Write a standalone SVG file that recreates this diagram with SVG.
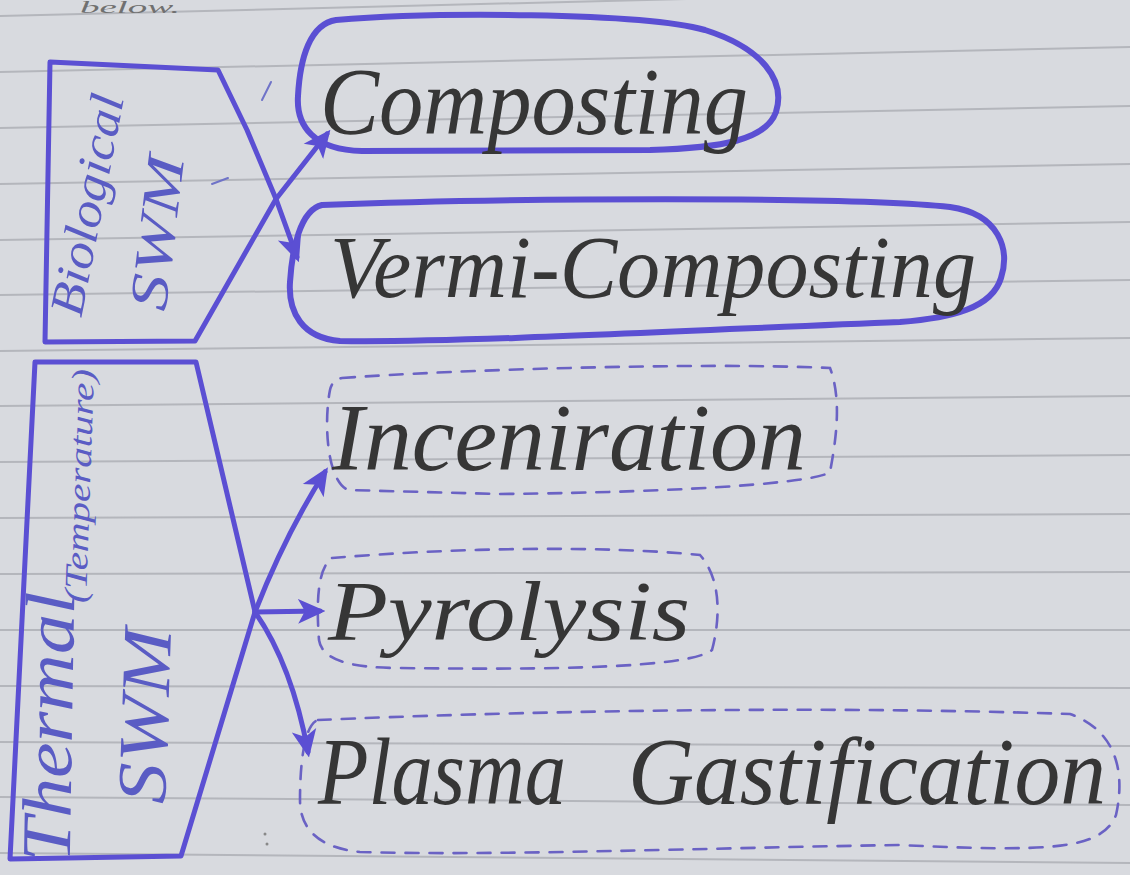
<svg xmlns="http://www.w3.org/2000/svg" width="1130" height="875" viewBox="0 0 1130 875">
<style>
.rule{stroke:#b4b6bc;stroke-width:2;fill:none}
.ink{stroke:#5b4fd3;fill:none;stroke-linecap:round;stroke-linejoin:round}
.box{stroke-width:5}
.oval{stroke-width:6}
.dash{stroke:#6a62c4;stroke-width:2.6;fill:none;stroke-dasharray:13 11;stroke-linecap:round}
.conn{stroke:#5b4fd3;stroke-width:5;fill:none;stroke-linecap:round}
.lbl{font-family:"Liberation Serif","DejaVu Serif",serif;font-style:italic;fill:#363636}
.side{font-family:"Liberation Serif","DejaVu Serif",serif;font-style:italic;fill:#5a5cc4}
.mark{stroke:#6f73c8;stroke-width:2;fill:none;stroke-linecap:round}
</style>
<defs>
<marker id="ah" viewBox="0 0 10 10" refX="8" refY="5" markerWidth="5.5" markerHeight="5.5" orient="auto" markerUnits="strokeWidth">
<path d="M0,0.5 L10,5 L0,9.5 L2.5,5 Z" fill="#5b4fd3"/>
</marker>
</defs>
<rect x="0" y="0" width="1130" height="875" fill="#d8dadf"/>
<g id="paper-lines">
<line class="rule" x1="0" y1="16" x2="1130" y2="-12"/>
<line class="rule" x1="0" y1="72" x2="1130" y2="47"/>
<line class="rule" x1="0" y1="128" x2="1130" y2="106"/>
<line class="rule" x1="0" y1="184" x2="1130" y2="164"/>
<line class="rule" x1="0" y1="240" x2="1130" y2="222"/>
<line class="rule" x1="0" y1="295" x2="1130" y2="280"/>
<line class="rule" x1="0" y1="351" x2="1130" y2="338"/>
<line class="rule" x1="0" y1="406" x2="1130" y2="396"/>
<line class="rule" x1="0" y1="462" x2="1130" y2="455"/>
<line class="rule" x1="0" y1="518" x2="1130" y2="514"/>
<line class="rule" x1="0" y1="574" x2="1130" y2="572"/>
<line class="rule" x1="0" y1="630" x2="1130" y2="630"/>
<line class="rule" x1="0" y1="686" x2="1130" y2="688"/>
<line class="rule" x1="0" y1="742" x2="1130" y2="746"/>
<line class="rule" x1="0" y1="797" x2="1130" y2="805"/>
<line class="rule" x1="0" y1="853" x2="1130" y2="863"/>
</g>
<text x="80" y="13" font-family="Liberation Serif, serif" font-style="italic" font-size="16" fill="#707070" textLength="100" lengthAdjust="spacingAndGlyphs">below.</text>
<g id="stray-marks">
<path class="mark" d="M271,82 L262,100"/>
<path class="mark" d="M212,184 L228,178"/>
<circle cx="265" cy="834" r="1.5" fill="#888"/>
<circle cx="267" cy="844" r="1.5" fill="#888"/>
</g>
<g id="biological-swm">
<path class="ink box" d="M50,62 L218,70 L247,130 L276,199 L195,341 L45,342 Z"/>
<text class="side" transform="translate(88,205) rotate(-79)" x="0" y="15" font-size="48" text-anchor="middle" textLength="225" lengthAdjust="spacingAndGlyphs">Biological</text>
<text class="side" transform="translate(158,233) rotate(-83)" x="0" y="17" font-size="54" text-anchor="middle" textLength="155" lengthAdjust="spacingAndGlyphs">SWM</text>
</g>
<g id="thermal-swm">
<path class="ink box" d="M35,362 L196,362 L255,612 L181,856 L10,859 Z"/>
<text class="side" transform="translate(50,727) rotate(-89)" x="0" y="22" font-size="70" text-anchor="middle" textLength="270" lengthAdjust="spacingAndGlyphs">Thermal</text>
<text class="side" transform="translate(80,486) rotate(-88)" x="0" y="10" font-size="32" text-anchor="middle" textLength="234" lengthAdjust="spacingAndGlyphs">(Temperature)</text>
<text class="side" transform="translate(146,716) rotate(-88)" x="0" y="22" font-size="70" text-anchor="middle" textLength="175" lengthAdjust="spacingAndGlyphs">SWM</text>
</g>
<g id="composting">
<path class="ink oval" d="M336,20 C430,12 640,12 705,30 C762,48 786,80 776,112 C766,140 722,148 650,150 L362,151 C314,150 296,126 298,96 C300,58 310,24 336,20 Z"/>
<text class="lbl" x="320" y="134" font-size="95" textLength="428" lengthAdjust="spacingAndGlyphs">Composting</text>
</g>
<g id="vermi-composting">
<path class="ink oval" d="M322,205 C500,198 850,196 950,207 C1000,214 1010,250 1001,278 C992,308 952,318 900,322 C700,330 450,343 340,341 C302,338 288,312 290,282 C292,250 300,210 322,205 Z"/>
<text class="lbl" x="330" y="297" font-size="88" textLength="646" lengthAdjust="spacingAndGlyphs">Vermi-Composting</text>
</g>
<g id="inceniration">
<path class="dash" d="M342,378 C450,370 700,362 830,368 C842,400 836,440 830,472 C818,482 700,492 500,494 L348,490 C326,480 324,420 330,390 C332,382 336,379 342,378 Z"/>
<text class="lbl" x="332" y="470" font-size="95" textLength="474" lengthAdjust="spacingAndGlyphs">Inceniration</text>
</g>
<g id="pyrolysis">
<path class="dash" d="M332,558 C450,548 600,545 700,555 C722,580 720,620 712,650 C690,668 550,670 400,668 C350,668 322,660 319,640 C316,600 318,568 332,558 Z"/>
<text class="lbl" x="328" y="640" font-size="85" textLength="362" lengthAdjust="spacingAndGlyphs">Pyrolysis</text>
</g>
<g id="plasma-gastification">
<path class="dash" d="M318,720 C500,712 800,705 1070,714 C1115,730 1126,770 1116,815 C1102,850 1050,852 900,845 C700,848 500,856 360,852 C320,848 300,830 300,800 C300,760 305,724 318,720 Z"/>
<text class="lbl" y="804" font-size="95"><tspan x="318" textLength="248" lengthAdjust="spacingAndGlyphs">Plasma</tspan><tspan x="628" textLength="478" lengthAdjust="spacingAndGlyphs">Gastification</tspan></text>
</g>
<g id="connectors">
<path class="conn" marker-end="url(#ah)" d="M276,199 L327,134"/>
<path class="conn" marker-end="url(#ah)" d="M276,199 L297,257"/>
<path class="conn" marker-end="url(#ah)" d="M255,612 Q285,535 325,472"/>
<path class="conn" marker-end="url(#ah)" d="M255,612 L320,611"/>
<path class="conn" marker-end="url(#ah)" d="M255,612 Q292,665 308,752"/>
</g>
</svg>
